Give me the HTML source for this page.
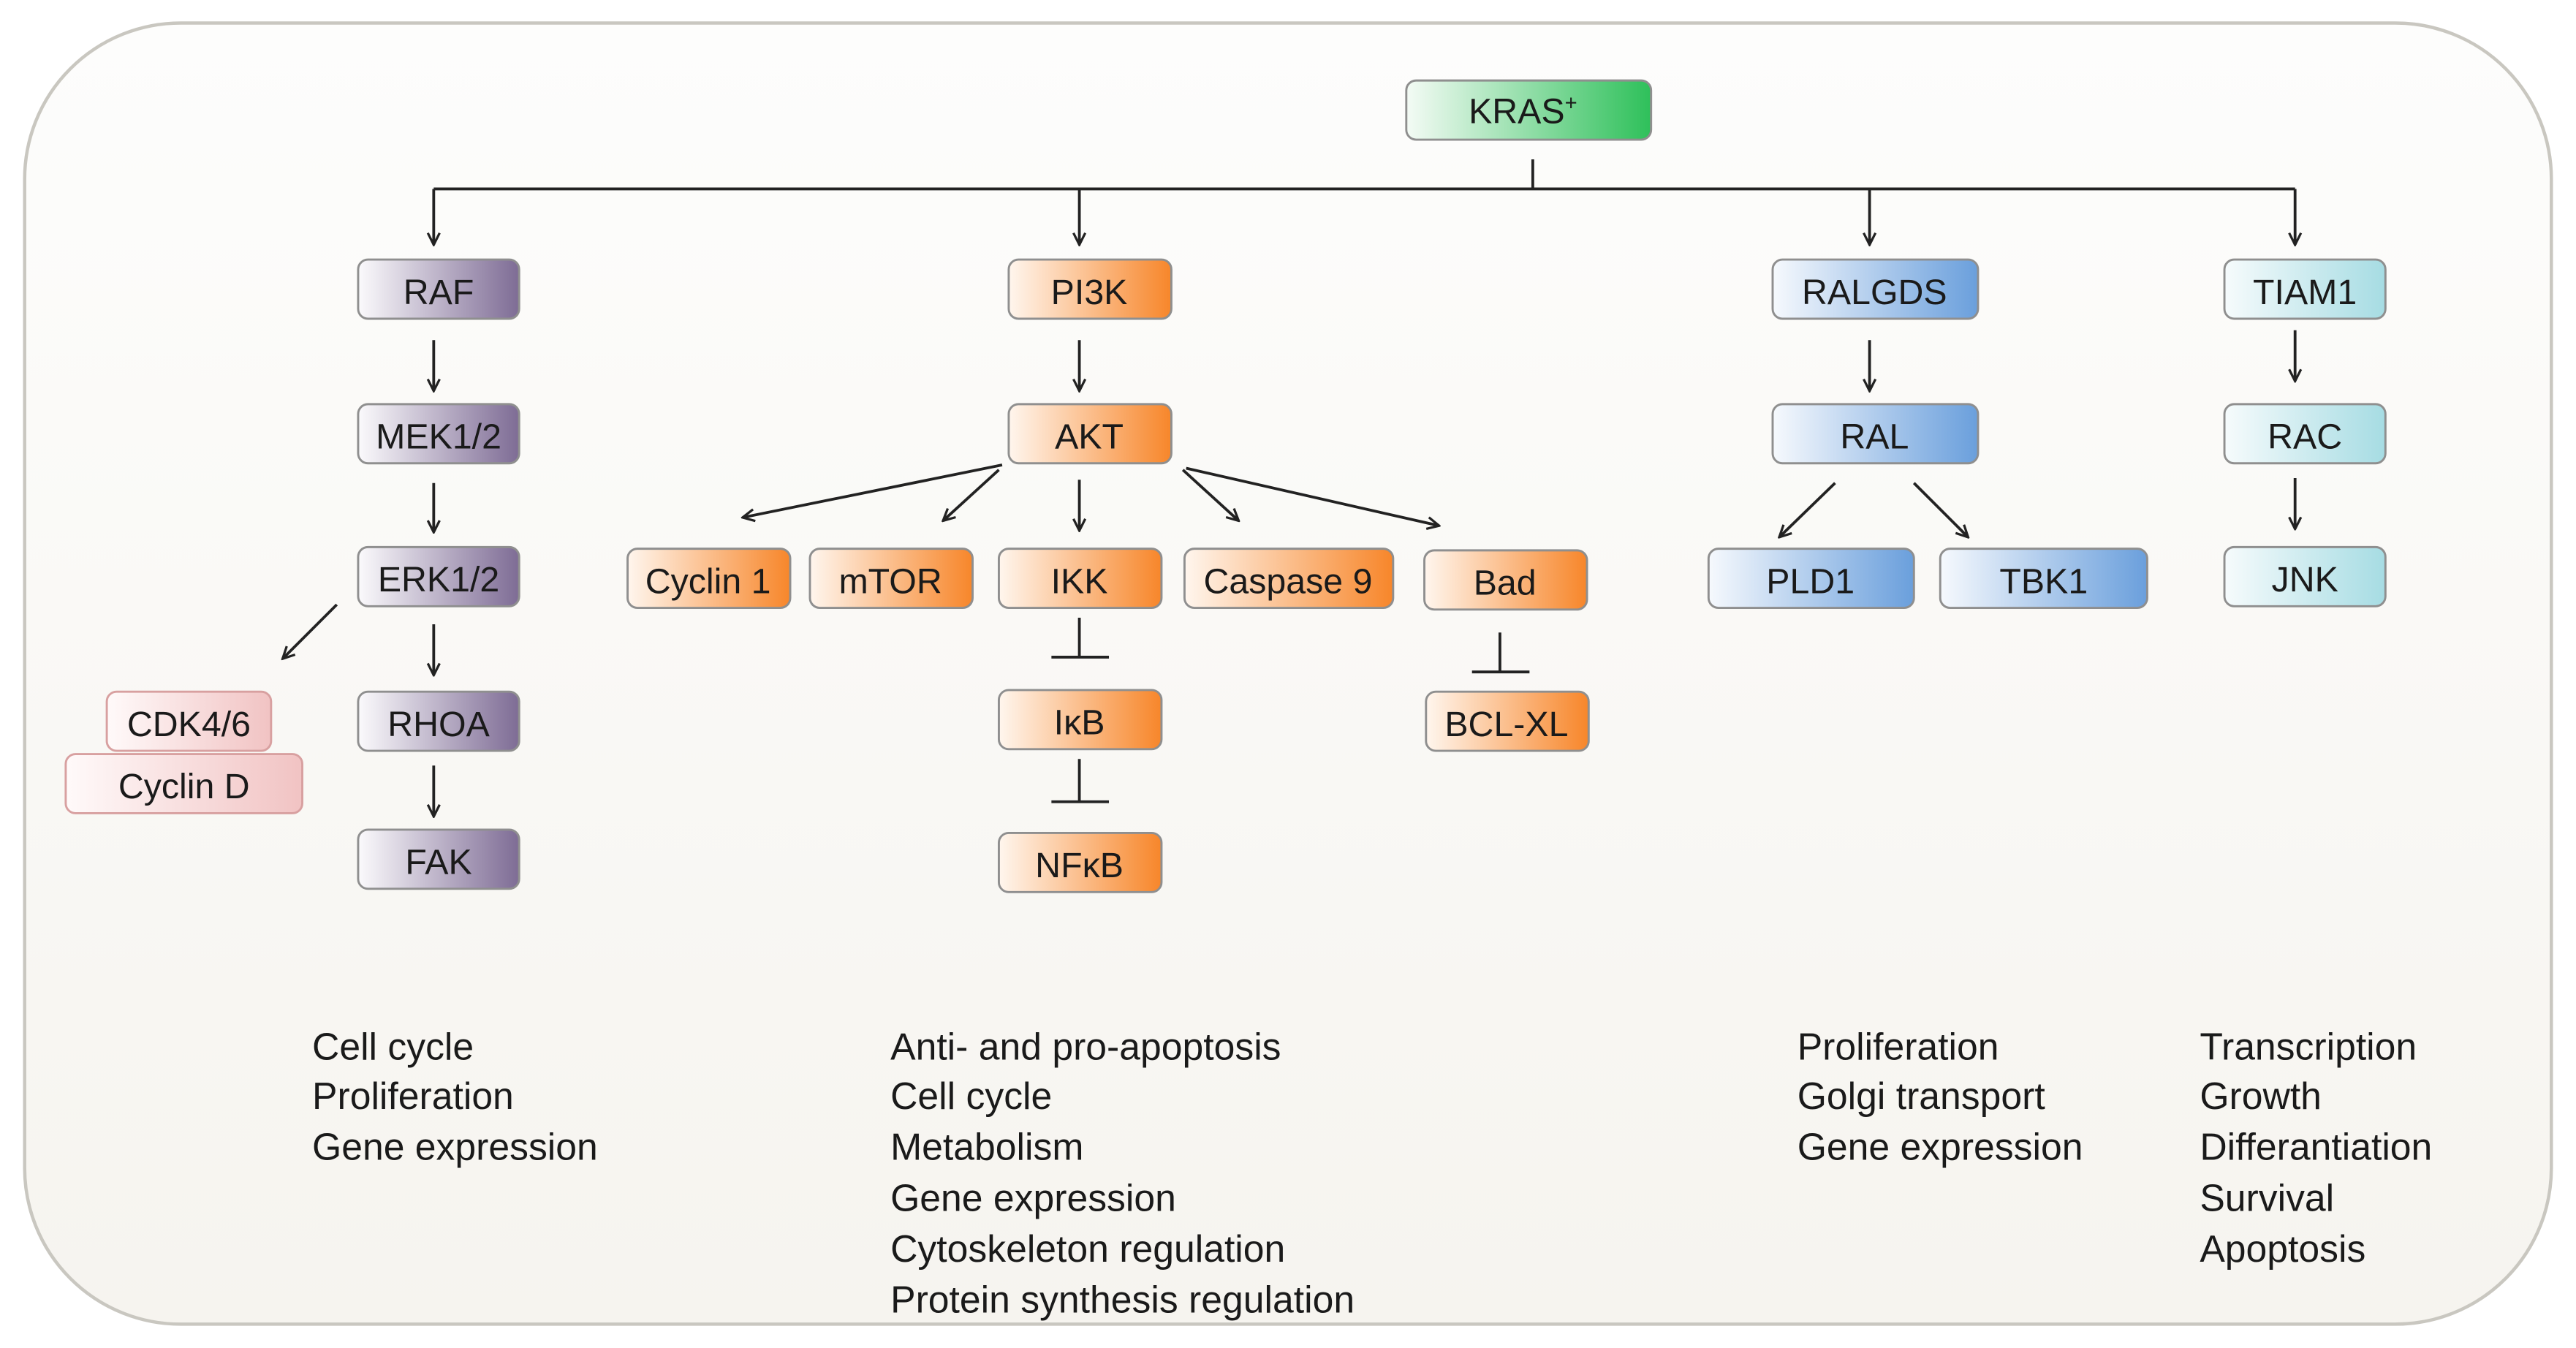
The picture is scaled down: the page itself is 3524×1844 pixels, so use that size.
<!DOCTYPE html>
<html><head><meta charset="utf-8"><style>
html,body{margin:0;padding:0;background:#fff;}
svg{display:block;}
text{font-family:"Liberation Sans",sans-serif;}
</style></head><body>
<svg width="3524" height="1844" viewBox="0 0 1568 820.5" preserveAspectRatio="none" xmlns="http://www.w3.org/2000/svg">
<defs>
<linearGradient id="bg" x1="0" y1="0" x2="0" y2="1"><stop offset="0" stop-color="#fdfdfc"/><stop offset="1" stop-color="#f6f4ef"/></linearGradient>
<linearGradient id="gG" x1="0" x2="1"><stop offset="0" stop-color="#f4fbf5"/><stop offset="1" stop-color="#2ec05a"/></linearGradient>
<linearGradient id="gP" x1="0" x2="1"><stop offset="0" stop-color="#fbfafc"/><stop offset="1" stop-color="#7e6c95"/></linearGradient>
<linearGradient id="gO" x1="0" x2="1"><stop offset="0" stop-color="#fff6ee"/><stop offset="1" stop-color="#f7862a"/></linearGradient>
<linearGradient id="gB" x1="0" x2="1"><stop offset="0" stop-color="#f6f9fd"/><stop offset="1" stop-color="#6a9fdc"/></linearGradient>
<linearGradient id="gT" x1="0" x2="1"><stop offset="0" stop-color="#f6fbfc"/><stop offset="1" stop-color="#a6dce3"/></linearGradient>
<linearGradient id="gK" x1="0" x2="1"><stop offset="0" stop-color="#fffafa"/><stop offset="1" stop-color="#f1c3c3"/></linearGradient>
<marker id="ar" viewBox="0 0 10 10" refX="9" refY="5" markerWidth="9" markerHeight="9" orient="auto" markerUnits="userSpaceOnUse"><path d="M1,1 L9,5 L1,9" fill="none" stroke="#222" stroke-width="1.6"/></marker>
</defs>
<rect x="15" y="14" width="1538" height="792" rx="95" fill="url(#bg)" stroke="#c9c7c0" stroke-width="2"/>

<g stroke="#222" stroke-width="1.7" fill="none">
<path d="M933,97 V115 M264,115 H1397"/>
<path d="M264,115 V149" marker-end="url(#ar)"/>
<path d="M657,115 V149" marker-end="url(#ar)"/>
<path d="M1138,115 V149" marker-end="url(#ar)"/>
<path d="M1397,115 V149" marker-end="url(#ar)"/>
<path d="M264,207 V238" marker-end="url(#ar)"/>
<path d="M264,294 V324" marker-end="url(#ar)"/>
<path d="M264,380 V411" marker-end="url(#ar)"/>
<path d="M264,466 V497" marker-end="url(#ar)"/>
<path d="M205,368 L172,401" marker-end="url(#ar)"/>
<path d="M657,207 V238" marker-end="url(#ar)"/>
<path d="M610,283 L452,315" marker-end="url(#ar)"/>
<path d="M608,286 L574,317" marker-end="url(#ar)"/>
<path d="M657,292 V323" marker-end="url(#ar)"/>
<path d="M720,286 L754,317" marker-end="url(#ar)"/>
<path d="M722,285 L876,320" marker-end="url(#ar)"/>
<path d="M657,376 V400 M640,400 H675"/>
<path d="M657,462 V488 M640,488 H675"/>
<path d="M913,385 V409 M896,409 H931"/>
<path d="M1138,207 V238" marker-end="url(#ar)"/>
<path d="M1117,294 L1083,327" marker-end="url(#ar)"/>
<path d="M1165,294 L1198,327" marker-end="url(#ar)"/>
<path d="M1397,201 V232" marker-end="url(#ar)"/>
<path d="M1397,291 V322" marker-end="url(#ar)"/>
</g>

<g stroke="#8f8f8f" stroke-width="1.3" fill="#1a1a1a">
<rect x="856" y="49" width="149" height="36" rx="6" fill="url(#gG)"/>
<rect x="218" y="158" width="98" height="36" rx="6" fill="url(#gP)"/>
<rect x="218" y="246" width="98" height="36" rx="6" fill="url(#gP)"/>
<rect x="218" y="333" width="98" height="36" rx="6" fill="url(#gP)"/>
<rect x="218" y="421" width="98" height="36" rx="6" fill="url(#gP)"/>
<rect x="218" y="505" width="98" height="36" rx="6" fill="url(#gP)"/>
<rect x="65" y="421" width="100" height="36" rx="6" fill="url(#gK)" stroke="#d8a0a0"/>
<rect x="40" y="459" width="144" height="36" rx="6" fill="url(#gK)" stroke="#d8a0a0"/>
<rect x="614" y="158" width="99" height="36" rx="6" fill="url(#gO)"/>
<rect x="614" y="246" width="99" height="36" rx="6" fill="url(#gO)"/>
<rect x="382" y="334" width="99" height="36" rx="6" fill="url(#gO)"/>
<rect x="493" y="334" width="99" height="36" rx="6" fill="url(#gO)"/>
<rect x="608" y="334" width="99" height="36" rx="6" fill="url(#gO)"/>
<rect x="721" y="334" width="127" height="36" rx="6" fill="url(#gO)"/>
<rect x="867" y="335" width="99" height="36" rx="6" fill="url(#gO)"/>
<rect x="608" y="420" width="99" height="36" rx="6" fill="url(#gO)"/>
<rect x="608" y="507" width="99" height="36" rx="6" fill="url(#gO)"/>
<rect x="868" y="421" width="99" height="36" rx="6" fill="url(#gO)"/>
<rect x="1079" y="158" width="125" height="36" rx="6" fill="url(#gB)"/>
<rect x="1079" y="246" width="125" height="36" rx="6" fill="url(#gB)"/>
<rect x="1040" y="334" width="125" height="36" rx="6" fill="url(#gB)"/>
<rect x="1181" y="334" width="126" height="36" rx="6" fill="url(#gB)"/>
<rect x="1354" y="158" width="98" height="36" rx="6" fill="url(#gT)"/>
<rect x="1354" y="246" width="98" height="36" rx="6" fill="url(#gT)"/>
<rect x="1354" y="333" width="98" height="36" rx="6" fill="url(#gT)"/>
</g>
<g font-size="21.5" fill="#1a1a1a" text-anchor="middle">
<text x="927" y="75">KRAS<tspan font-size="13" dy="-8">+</tspan></text>
<text x="267" y="185">RAF</text>
<text x="267" y="273">MEK1/2</text>
<text x="267" y="360">ERK1/2</text>
<text x="267" y="448">RHOA</text>
<text x="267" y="532">FAK</text>
<text x="115" y="448">CDK4/6</text>
<text x="112" y="486">Cyclin D</text>
<text x="663" y="185">PI3K</text>
<text x="663" y="273">AKT</text>
<text x="431" y="361">Cyclin 1</text>
<text x="542" y="361">mTOR</text>
<text x="657" y="361">IKK</text>
<text x="784" y="361">Caspase 9</text>
<text x="916" y="362">Bad</text>
<text x="657" y="447">IκB</text>
<text x="657" y="534">NFκB</text>
<text x="917" y="448">BCL-XL</text>
<text x="1141" y="185">RALGDS</text>
<text x="1141" y="273">RAL</text>
<text x="1102" y="361">PLD1</text>
<text x="1244" y="361">TBK1</text>
<text x="1403" y="185">TIAM1</text>
<text x="1403" y="273">RAC</text>
<text x="1403" y="360">JNK</text>
</g>
<g font-size="23" fill="#1a1a1a">
<text x="190" y="645">Cell cycle</text>
<text x="190" y="675">Proliferation</text>
<text x="190" y="706">Gene expression</text>
<text x="542" y="645">Anti- and pro-apoptosis</text>
<text x="542" y="675">Cell cycle</text>
<text x="542" y="706">Metabolism</text>
<text x="542" y="737">Gene expression</text>
<text x="542" y="768">Cytoskeleton regulation</text>
<text x="542" y="799">Protein synthesis regulation</text>
<text x="1094" y="645">Proliferation</text>
<text x="1094" y="675">Golgi transport</text>
<text x="1094" y="706">Gene expression</text>
<text x="1339" y="645">Transcription</text>
<text x="1339" y="675">Growth</text>
<text x="1339" y="706">Differantiation</text>
<text x="1339" y="737">Survival</text>
<text x="1339" y="768">Apoptosis</text>
</g>
</svg>
</body></html>
